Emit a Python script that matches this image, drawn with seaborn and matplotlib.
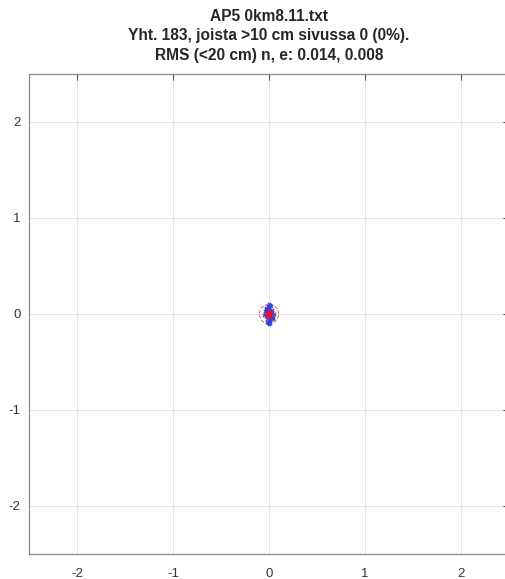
import matplotlib
matplotlib.use("Agg")
import matplotlib.pyplot as plt
from matplotlib.patches import Circle
import seaborn as sns
import pandas as pd

title_lines = ["AP5 0km8.11.txt",
               "Yht. 183, joista >10 cm sivussa 0 (0%).",
               "RMS (<20 cm) n, e: 0.014, 0.008"]

# estimated point offsets (east, north) in metres, read from the cluster
east = [0.00, 0.02, -0.02, 0.03, -0.03, 0.00, 0.02, -0.02, 0.04, -0.04,
        0.00, 0.03, -0.03, 0.01, -0.01, 0.00, 0.02, -0.02, 0.01, -0.01,
        0.00, 0.05, -0.05, 0.01, -0.01, 0.00, 0.03, -0.04, 0.02, -0.02,
        0.00, 0.01, -0.01, 0.04, -0.03, 0.00, 0.01, -0.02, 0.00, 0.03]
north = [0.00, 0.01, -0.01, 0.02, -0.02, 0.03, -0.03, 0.04, -0.04, 0.01,
         0.05, -0.05, 0.06, -0.06, 0.07, -0.07, 0.08, -0.08, 0.09, -0.09,
         0.10, 0.00, -0.01, 0.02, -0.02, -0.10, 0.04, 0.03, -0.04, 0.05,
         0.06, -0.07, 0.08, -0.03, 0.05, 0.02, -0.09, -0.05, 0.07, 0.01]
center = (0.0, 0.0)
limit_radius = 0.10
ticks = [-2, -1, 0, 1, 2]

df = pd.DataFrame({"e": east, "n": north})

sns.set_style("white")
plt.rcParams['font.family'] = ['Liberation Sans', 'DejaVu Sans']

fig = plt.figure(figsize=(5.05, 5.79), dpi=100)
ax = fig.add_axes([29 / 505, 25 / 579, 480 / 505, 480 / 579])

sns.scatterplot(data=df, x="e", y="n", ax=ax, color="#3040d8", marker="x",
                s=6, linewidth=0.8, legend=False, zorder=3)
ax.plot(center[0], center[1], "o", color="#e8102a", markersize=5, zorder=4)
ax.add_patch(Circle(center, limit_radius, fill=False, ls="--", lw=0.7,
                    ec="#e06060", zorder=2))

ax.set_xlim(-2.5, 2.5)
ax.set_ylim(-2.5, 2.5)
ax.set_xticks(ticks)
ax.set_yticks(ticks)
ax.set_xticklabels([str(t) for t in ticks])
ax.set_yticklabels([str(t) for t in ticks])
ax.set_xlabel("")
ax.set_ylabel("")
ax.grid(True, color="#e4e4e4", lw=0.8)
ax.set_axisbelow(True)
ax.tick_params(direction="in", length=4, color="#555555", labelsize=9.5,
               top=True, right=True, labelcolor="#333333")
ax.tick_params(axis="x", pad=10)
ax.tick_params(axis="y", pad=6)
for sp in ax.spines.values():
    sp.set_color("#888888")
    sp.set_linewidth(0.9)

ax.set_title("\n".join(title_lines), fontsize=11.2, fontweight="bold",
             linespacing=1.4, pad=10)

fig.savefig("out.png", dpi=100)
